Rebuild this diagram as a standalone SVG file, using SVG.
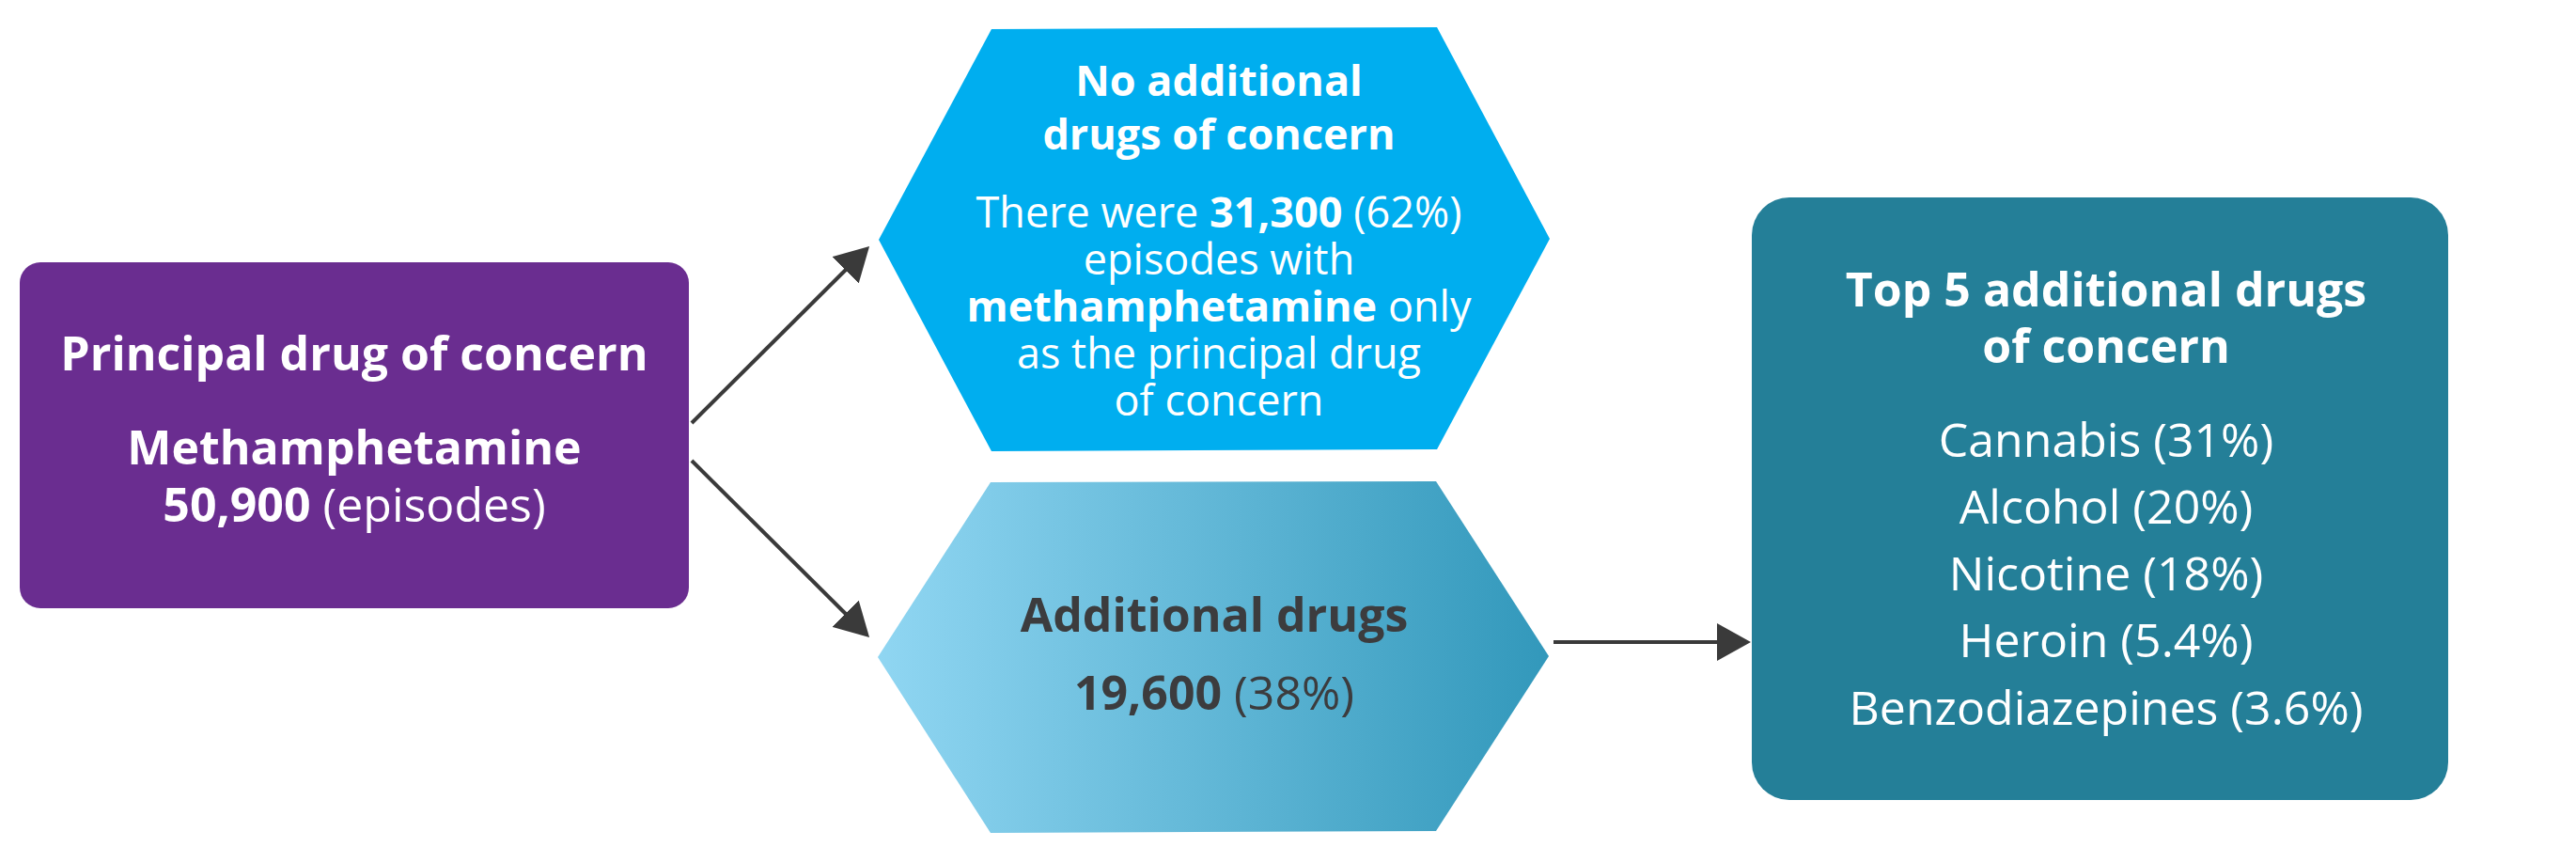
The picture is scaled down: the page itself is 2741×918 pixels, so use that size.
<svg xmlns="http://www.w3.org/2000/svg" width="2741" height="918" viewBox="0 0 2741 918">
<style>
text{font-family:"Open Sans","Liberation Sans",sans-serif;text-anchor:middle}
.b{font-weight:700}
.r{font-weight:400}
.w{fill:#ffffff}
.d{fill:#3c3c3e}
.t50{font-size:50px}
.t45{font-size:45px}
.conn{stroke:#3a3a3a;stroke-width:4;fill:none}
</style>
<defs>
<linearGradient id="gradB" x1="0" y1="0" x2="1" y2="0">
<stop offset="0" stop-color="#90d6f2"/>
<stop offset="1" stop-color="#3298bb"/>
</linearGradient>
<marker id="arr" markerUnits="userSpaceOnUse" markerWidth="36" markerHeight="40" refX="26" refY="20" orient="auto" viewBox="0 0 36 40">
<path d="M0,0 L36,20 L0,40 Z" fill="#3a3a3a"/>
</marker>
</defs>
<rect width="2741" height="918" fill="#ffffff"/>
<g id="connectors">
<line class="conn" x1="736" y1="450" x2="918" y2="269" marker-end="url(#arr)"/>
<line class="conn" x1="736" y1="490" x2="918" y2="671" marker-end="url(#arr)"/>
<line class="conn" x1="1653" y1="683" x2="1853" y2="683" marker-end="url(#arr)"/>
</g>
<g id="principal">
<rect x="21" y="279" width="712" height="368" rx="22" fill="#6a2d90"/>
<text class="b w t50" x="377" y="394">Principal drug of concern</text>
<text class="b w t50" x="377" y="494">Methamphetamine</text>
<text class="w t50" x="377" y="555"><tspan class="b">50,900</tspan> (episodes)</text>
</g>
<g id="no-additional">
<polygon points="935,255 1055,31 1529,29 1649,254 1529,478 1055,480" fill="#00aeef"/>
<text class="b w t45" x="1297" y="102">No additional</text>
<text class="b w t45" x="1297" y="159">drugs of concern</text>
<text class="w t45" x="1297" y="242">There were <tspan class="b">31,300</tspan> (62%)</text>
<text class="w t45" x="1297" y="292">episodes with</text>
<text class="w t45" x="1297" y="342"><tspan class="b">methamphetamine</tspan> only</text>
<text class="w t45" x="1297" y="392">as the principal drug</text>
<text class="w t45" x="1297" y="442">of concern</text>
</g>
<g id="additional">
<polygon points="934,699 1054,513 1528,512 1648,698 1528,884 1054,886" fill="url(#gradB)"/>
<text class="b d t50" x="1292" y="672">Additional drugs</text>
<text class="d t50" x="1292" y="755"><tspan class="b">19,600</tspan> (38%)</text>
</g>
<g id="top5">
<rect x="1864" y="210" width="741" height="641" rx="40" fill="#247f98"/>
<text class="b w t50" x="2241" y="326">Top 5 additional drugs</text>
<text class="b w t50" x="2241" y="386">of concern</text>
<text class="w t50" x="2241" y="486">Cannabis (31%)</text>
<text class="w t50" x="2241" y="557">Alcohol (20%)</text>
<text class="w t50" x="2241" y="628">Nicotine (18%)</text>
<text class="w t50" x="2241" y="699">Heroin (5.4%)</text>
<text class="w t50" x="2241" y="771">Benzodiazepines (3.6%)</text>
</g>
</svg>
